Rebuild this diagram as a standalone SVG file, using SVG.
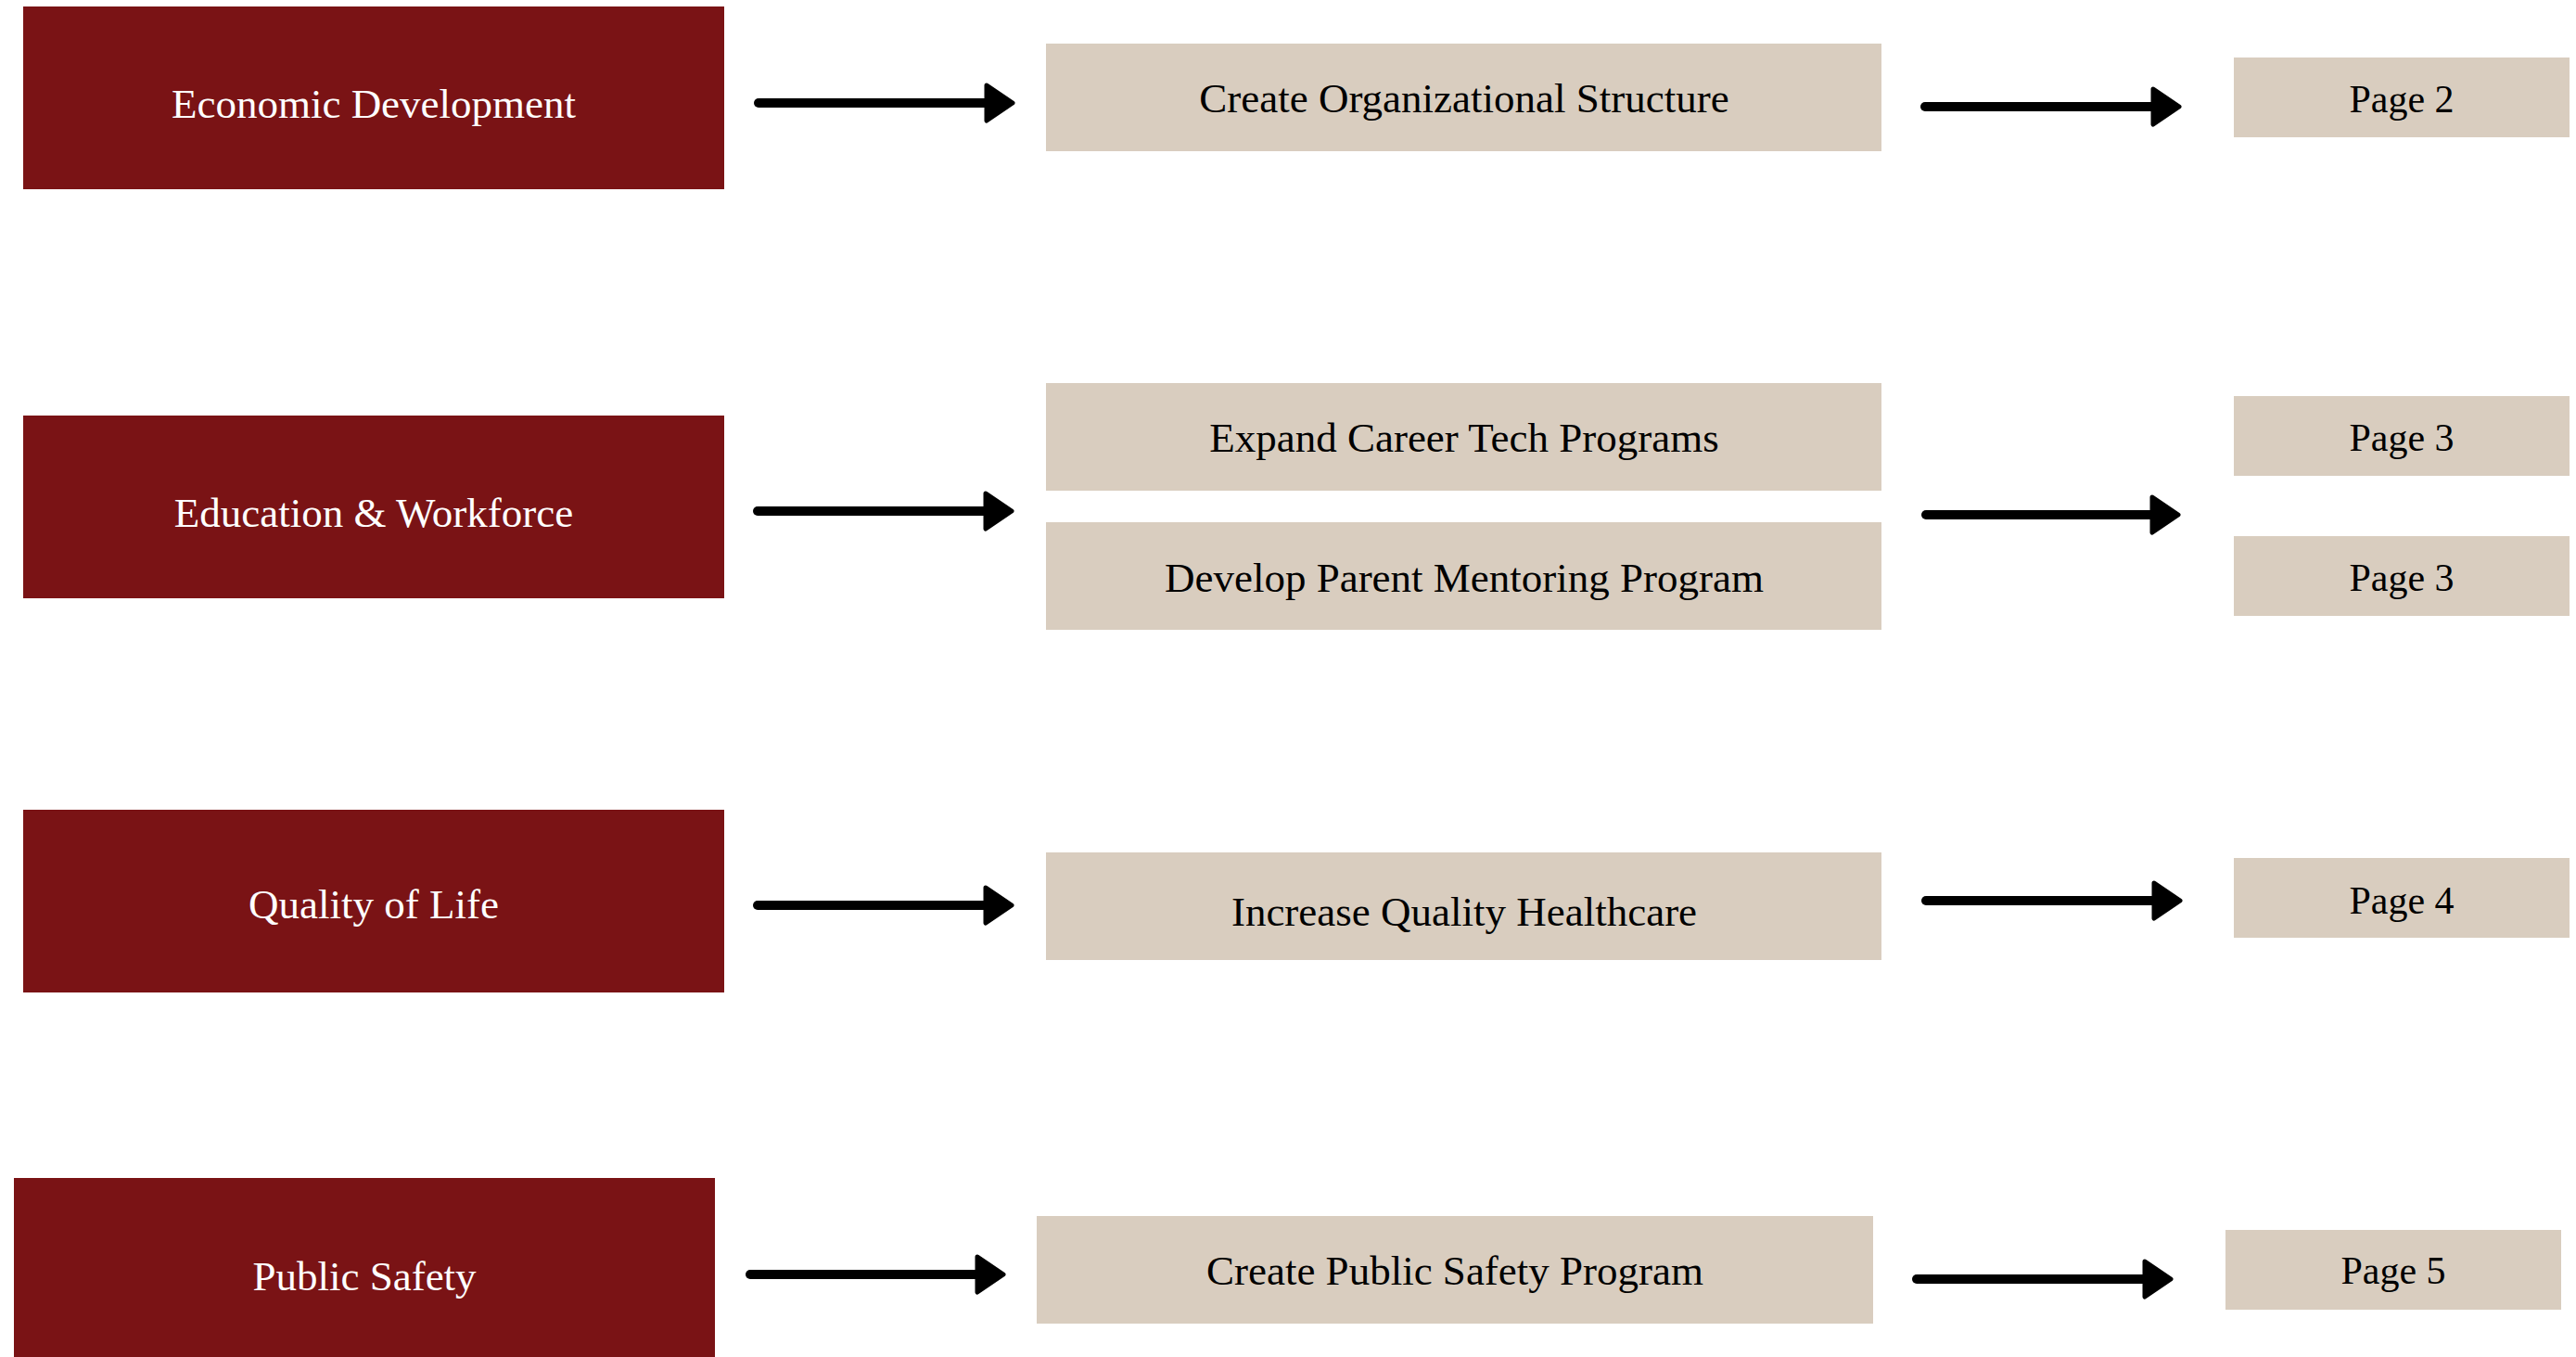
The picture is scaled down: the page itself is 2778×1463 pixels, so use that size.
<svg xmlns="http://www.w3.org/2000/svg" width="2778" height="1463" viewBox="0 0 2778 1463">
<style>
.red rect{fill:#7A1315}
.bg rect{fill:#D9CDBF}
text{font-family:"Liberation Serif","Times New Roman",serif;font-size:45px;text-anchor:middle}
.red text{fill:#FFFFFF}
.bg text{fill:#000000}
.pg text{font-size:42px}
.arrow line{stroke:#000;stroke-width:10;stroke-linecap:round}
.arrow path{fill:#000;stroke:#000;stroke-width:5;stroke-linejoin:round}
</style>
<rect width="2778" height="1463" fill="#FFFFFF"/>
<g id="economic-development" class="red"><rect x="25" y="7" width="756" height="197"/><text x="403" y="127">Economic Development</text></g>
<g id="create-organizational-structure" class="bg"><rect x="1128" y="47" width="901" height="116"/><text x="1579" y="121">Create Organizational Structure</text></g>
<g id="page-2" class="bg pg"><rect x="2409" y="62" width="362" height="86"/><text x="2590" y="121">Page 2</text></g>

<g id="education-workforce" class="red"><rect x="25" y="448" width="756" height="197"/><text x="403" y="568">Education &amp; Workforce</text></g>
<g id="expand-career-tech" class="bg"><rect x="1128" y="413" width="901" height="116"/><text x="1579" y="487">Expand Career Tech Programs</text></g>
<g id="develop-parent-mentoring" class="bg"><rect x="1128" y="563" width="901" height="116"/><text x="1579" y="638">Develop Parent Mentoring Program</text></g>
<g id="page-3a" class="bg pg"><rect x="2409" y="427" width="362" height="86"/><text x="2590" y="486">Page 3</text></g>
<g id="page-3b" class="bg pg"><rect x="2409" y="578" width="362" height="86"/><text x="2590" y="637">Page 3</text></g>

<g id="quality-of-life" class="red"><rect x="25" y="873" width="756" height="197"/><text x="403" y="990">Quality of Life</text></g>
<g id="increase-quality-healthcare" class="bg"><rect x="1128" y="919" width="901" height="116"/><text x="1579" y="998">Increase Quality Healthcare</text></g>
<g id="page-4" class="bg pg"><rect x="2409" y="925" width="362" height="86"/><text x="2590" y="985">Page 4</text></g>

<g id="public-safety" class="red"><rect x="15" y="1270" width="756" height="193"/><text x="393" y="1391">Public Safety</text></g>
<g id="create-public-safety-program" class="bg"><rect x="1118" y="1311" width="902" height="116"/><text x="1569" y="1385">Create Public Safety Program</text></g>
<g id="page-5" class="bg pg"><rect x="2400" y="1326" width="362" height="86"/><text x="2581" y="1384">Page 5</text></g>

<g id="connectors">
<g class="arrow"><line x1="818" y1="111" x2="1068" y2="111"/><path d="M1064,92 L1092,111 L1064,130 Z"/></g>
<g class="arrow"><line x1="2076" y1="115" x2="2326" y2="115"/><path d="M2322,96 L2350,115 L2322,134 Z"/></g>
<g class="arrow"><line x1="817" y1="551" x2="1067" y2="551"/><path d="M1063,532 L1091,551 L1063,570 Z"/></g>
<g class="arrow"><line x1="2077" y1="555" x2="2325" y2="555"/><path d="M2321,536 L2349,555 L2321,574 Z"/></g>
<g class="arrow"><line x1="817" y1="976" x2="1067" y2="976"/><path d="M1063,957 L1091,976 L1063,995 Z"/></g>
<g class="arrow"><line x1="2077" y1="971" x2="2327" y2="971"/><path d="M2323,952 L2351,971 L2323,990 Z"/></g>
<g class="arrow"><line x1="809" y1="1374" x2="1058" y2="1374"/><path d="M1054,1355 L1082,1374 L1054,1393 Z"/></g>
<g class="arrow"><line x1="2067" y1="1379" x2="2317" y2="1379"/><path d="M2313,1360 L2341,1379 L2313,1398 Z"/></g>
</g>
</svg>
